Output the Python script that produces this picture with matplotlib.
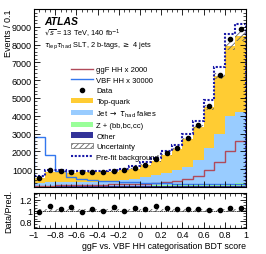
import numpy as np
import matplotlib
matplotlib.use("Agg")
import matplotlib.pyplot as plt
from matplotlib.patches import Patch
from matplotlib.lines import Line2D
from matplotlib.ticker import MultipleLocator

# binning: 20 bins of 0.1 between -1 and 1
bin_edges = np.linspace(-1, 1, 21)

# stacked backgrounds (post-fit), events per bin
other = [40, 50, 50, 50, 50, 50, 50, 55, 55, 55, 55, 55, 55, 60, 60, 60, 60, 60, 65, 70]
z_hf = [15, 20, 20, 20, 20, 20, 20, 25, 25, 25, 25, 30, 30, 35, 40, 45, 55, 70, 90, 130]
fakes = [145, 190, 180, 190, 200, 220, 250, 270, 320, 390, 470, 565, 695, 855, 1000, 1395, 2085, 2870, 3845, 4000]
top = [310, 601, 603, 542, 567, 535, 540, 499, 530, 559, 675, 785, 1028, 1176, 1596, 1859, 2285, 3228, 3914, 4257]

data = [500, 930, 870, 850, 820, 850, 860, 900, 930, 1080, 1250, 1550, 1880, 2190, 2750, 3460, 4530, 6290, 8310, 8880]
prefit = [590, 960, 930, 900, 880, 890, 910, 950, 990, 1200, 1380, 1650, 2000, 2350, 2950, 3730, 4900, 6760, 8600, 9160]

ggf_hh = [70, 80, 90, 100, 110, 120, 130, 140, 150, 160, 170, 200, 270, 360, 470, 640, 930, 1400, 2040, 2600]
vbf_hh = [2780, 1800, 920, 560, 470, 400, 350, 310, 280, 250, 230, 210, 200, 190, 180, 170, 160, 150, 150, 140]

unc_frac = 0.03

# colores
c_top = "#ffcc33"
c_fakes = "#99ccff"
c_z = "#99ff99"
c_other = "#333399"
c_ggf = "#b04a5a"
c_vbf = "#3377ee"
c_prefit = "#1a1aa8"

plt.rcParams["font.family"] = "Liberation Sans"
plt.rcParams["xtick.direction"] = "in"
plt.rcParams["ytick.direction"] = "in"
plt.rcParams["hatch.color"] = "#666666"
plt.rcParams["hatch.linewidth"] = 0.6

fig = plt.figure(figsize=(2.66, 2.55), dpi=100)
ax = fig.add_axes([0.128, 0.263, 0.797, 0.698])
rax = fig.add_axes([0.128, 0.102, 0.797, 0.137], sharex=ax)

centers = 0.5 * (bin_edges[:-1] + bin_edges[1:])
comps = [other, z_hf, fakes, top]
colors = [c_other, c_z, c_fakes, c_top]
bottom = np.zeros(20)
for vals, col in zip(comps, colors):
    vals = np.array(vals, dtype=float)
    ax.stairs(bottom + vals, bin_edges, baseline=bottom, fill=True, color=col, lw=0)
    bottom = bottom + vals
total = bottom

# uncertainty band
ax.stairs(total * (1 + unc_frac), bin_edges, baseline=total * (1 - unc_frac), fill=True,
          facecolor="none", edgecolor="#666666", hatch="//////", lw=0)

ax.stairs(ggf_hh, bin_edges, color=c_ggf, lw=1.0)
ax.stairs(vbf_hh, bin_edges, color=c_vbf, lw=1.0)
ax.stairs(prefit, bin_edges, color=c_prefit, lw=1.5, ls=(0, (1, 0.8)))

data = np.array(data, dtype=float)
ax.errorbar(centers, data, yerr=np.sqrt(data), fmt="o", color="black", ms=3, elinewidth=0.8, capsize=0)

ax.set_xlim(-1, 1)
ax.set_ylim(0, 10000)
ax.set_yticks(np.arange(1000, 10000, 1000))
ax.yaxis.set_minor_locator(MultipleLocator(200))
ax.xaxis.set_minor_locator(MultipleLocator(0.05))
ax.xaxis.set_major_locator(MultipleLocator(0.2))
ax.tick_params(which="both", top=True, right=True, labelsize=6.5, pad=1.5)
ax.tick_params(which="major", length=4, width=0.6)
ax.tick_params(which="minor", length=2, width=0.5)
ax.tick_params(labelbottom=False)
ax.set_ylabel("Events / 0.1", fontsize=6.5, loc="top")
ax.yaxis.set_label_coords(-0.1, 1.0)

ax.text(0.047, 0.935, "ATLAS", transform=ax.transAxes, fontsize=7.5, weight="bold", style="italic", va="center")
ax.text(0.047, 0.865, r"$\sqrt{s}$ = 13 TeV, 140 fb$^{-1}$", transform=ax.transAxes, fontsize=5.3, va="center")
ax.text(0.047, 0.798, r"$\tau_{\rm lep}\tau_{\rm had}$ SLT, 2 b-tags, $\geq$ 4 jets", transform=ax.transAxes,
        fontsize=5.3, va="center")

handles = [
    Line2D([], [], color=c_ggf, lw=1.0),
    Line2D([], [], color=c_vbf, lw=1.0),
    Line2D([], [], color="black", marker="o", ms=3, ls="none"),
    Patch(facecolor=c_top, lw=0),
    Patch(facecolor=c_fakes, lw=0),
    Patch(facecolor=c_z, lw=0),
    Patch(facecolor=c_other, lw=0),
    Patch(facecolor="white", edgecolor="#666666", hatch="//////", lw=0.5),
    Line2D([], [], color=c_prefit, lw=1.5, ls=(0, (1, 0.8))),
]
labels = ["ggF HH x 2000", "VBF HH x 30000", "Data", "Top-quark", r"Jet $\rightarrow$ $\tau_{\rm had}$ fakes",
          "Z + (bb,bc,cc)", "Other", "Uncertainty", "Pre-fit background"]
ax.legend(handles, labels, loc="upper left", bbox_to_anchor=(0.15, 0.71), frameon=False, fontsize=5.5,
          labelspacing=0.42, handlelength=2.8, handletextpad=0.5, borderpad=0.2)

# ratio panel
ratio = data / total
rax.stairs(np.ones(20) + unc_frac, bin_edges, baseline=np.ones(20) - unc_frac, fill=True,
           facecolor="none", edgecolor="#666666", hatch="//////", lw=0)
rax.axhline(1, color="black", lw=0.5, ls=(0, (2, 1)))
rax.errorbar(centers, ratio, yerr=np.sqrt(data) / total, fmt="o", color="black", ms=3, elinewidth=0.8, capsize=0)
rax.set_ylim(0.68, 1.32)
rax.set_yticks([0.8, 1.0, 1.2])
rax.set_yticklabels(["0.8", "1", "1.2"])
rax.yaxis.set_minor_locator(MultipleLocator(0.05))
rax.tick_params(which="both", top=True, right=True, labelsize=6.5, pad=1.5)
rax.tick_params(which="major", length=4, width=0.6)
rax.tick_params(which="minor", length=2, width=0.5)
rax.set_xticks(np.arange(-1, 1.01, 0.2))
rax.set_xticklabels(["\u22121", "\u22120.8", "\u22120.6", "\u22120.4", "\u22120.2", "0", "0.2", "0.4", "0.6", "0.8", "1"])
rax.set_ylabel("Data/Pred.", fontsize=6.5)
rax.yaxis.set_label_coords(-0.1, 0.5)
rax.set_xlabel("ggF vs. VBF HH categorisation BDT score", fontsize=6.3, loc="right", labelpad=1.5)

fig.savefig("out.png", dpi=100)
